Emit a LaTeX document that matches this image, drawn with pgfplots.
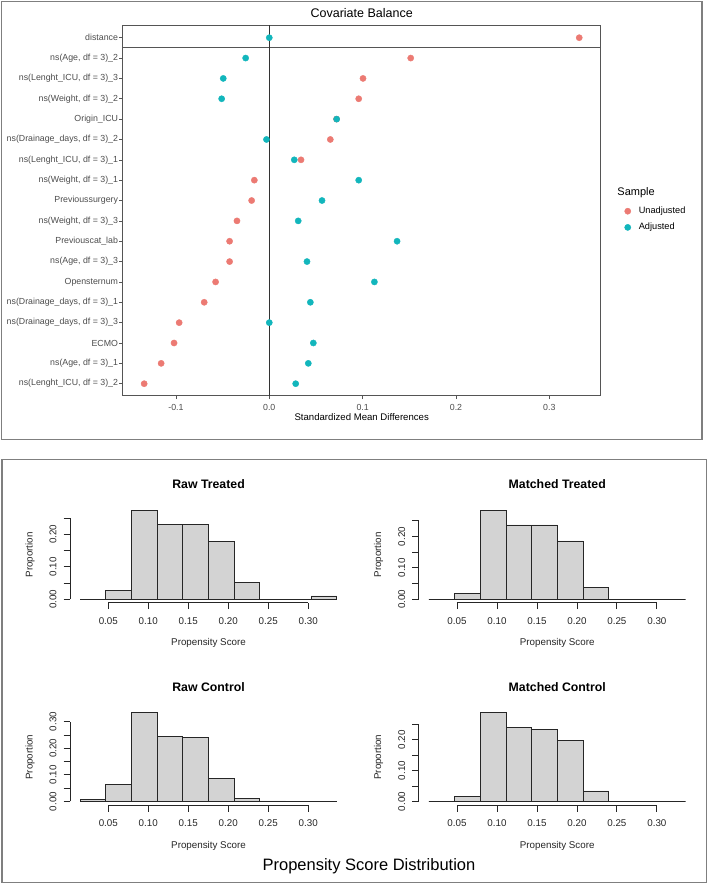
\documentclass[border=0pt]{standalone}
\usepackage{pgfplots}
\pgfplotsset{compat=1.18}
\usepackage{fontspec}
\setmainfont{Liberation Sans}
\definecolor{unadj}{HTML}{EC7A73}
\definecolor{adj}{HTML}{12B6BC}
\definecolor{boxgray}{HTML}{7F7F7F}
\definecolor{framegray}{HTML}{555555}
\definecolor{ticktext}{HTML}{4D4D4D}
\definecolor{histgray}{HTML}{D3D3D3}

\pgfplotstableread{
x y
0.332 17
0.1515 16
0.1004 15
0.0958 14
0.072 13
0.0654 12
0.034 11
-0.016 10
-0.0189 9
-0.0346 8
-0.0425 7
-0.0425 6
-0.0575 5
-0.0697 4
-0.0965 3
-0.102 2
-0.1158 1
-0.134 0
}\unadjdata

\pgfplotstableread{
x y
0.0 17
-0.0253 16
-0.0493 15
-0.051 14
0.0722 13
-0.003 12
0.0268 11
0.0958 10
0.0565 9
0.031 8
0.1369 7
0.0404 6
0.1126 5
0.044 4
0.0 3
0.0472 2
0.0418 1
0.0283 0
}\adjdata

\pgfplotsset{
  every axis title shift=0pt,
  hist/.style={
    scale only axis, width=277.1pt, height=95.7pt, anchor=south west,
    xmin=0.0021, xmax=0.3487,
    axis line style={draw=none},
    xtick={0.05,0.1,0.15,0.2,0.25,0.3},
    xticklabels={0.05,0.10,0.15,0.20,0.25,0.30},
    xtick pos=bottom, ytick pos=left, tick align=outside,
    major tick length=6.5pt,
    tick style={black!85, line width=0.8pt},
    tick label style={font=\fontsize{9.8}{11}\selectfont, text=black!85},
    yticklabel style={rotate=90, anchor=south},
    xticklabel shift=4.5pt, yticklabel shift=3.4pt,
    xlabel={Propensity Score}, ylabel={Proportion},
    xlabel style={at={(axis description cs:0.5,-0.424)}, anchor=center, font=\fontsize{9.8}{11}\selectfont, text=black!85},
    ylabel style={at={(axis description cs:-0.1444,0.5)}, anchor=center, font=\fontsize{9.8}{11}\selectfont, text=black!85},
    title style={at={(axis description cs:0.5,1.237)}, anchor=center, font=\bfseries\fontsize{12.3}{14}\selectfont},
    clip=false,
  },
  bars/.style={ybar interval, fill=histgray, draw=black!85, line width=0.8pt},
}

\begin{document}
\begin{tikzpicture}
\useasboundingbox (0pt,0pt) rectangle (709pt,-884pt);
\fill[white] (0pt,0pt) rectangle (709pt,-884pt);
\draw[boxgray, line width=1.5pt] (1.7pt,-1.7pt) rectangle (702pt,-439.3pt);
\draw[boxgray, line width=1.5pt] (2pt,-459.3pt) rectangle (706.7pt,-882.7pt);

% ---------------- Covariate balance (love plot) ----------------
\begin{axis}[
  at={(122.7pt,-395.7pt)}, anchor=south west, scale only axis,
  width=478pt, height=370.7pt,
  xmin=-0.157, xmax=0.355, ymin=-0.59, ymax=17.624,
  xtick={-0.1,0,0.1,0.2,0.3}, xticklabels={-0.1,0.0,0.1,0.2,0.3},
  ytick={0,...,17},
  yticklabels={
    {ns(Lenght\_ICU, df = 3)\_2},
    {ns(Age, df = 3)\_1},
    {ECMO},
    {ns(Drainage\_days, df = 3)\_3},
    {ns(Drainage\_days, df = 3)\_1},
    {Opensternum},
    {ns(Age, df = 3)\_3},
    {Previouscat\_lab},
    {ns(Weight, df = 3)\_3},
    {Previoussurgery},
    {ns(Weight, df = 3)\_1},
    {ns(Lenght\_ICU, df = 3)\_1},
    {ns(Drainage\_days, df = 3)\_2},
    {Origin\_ICU},
    {ns(Weight, df = 3)\_2},
    {ns(Lenght\_ICU, df = 3)\_3},
    {ns(Age, df = 3)\_2},
    {distance}},
  tick align=outside, major tick length=3.5pt,
  tick style={framegray, line width=0.6pt},
  xtick pos=bottom, ytick pos=left,
  axis line style={draw=framegray, line width=0.9pt},
  tick label style={font=\fontsize{8.8}{10}\selectfont, text=ticktext},
  yticklabel style={inner sep=1pt},
  xticklabel shift=1.5pt,
  xlabel={Standardized Mean Differences},
  xlabel style={at={(axis description cs:0.5,-0.0583)}, anchor=center, font=\fontsize{9.6}{11}\selectfont, text=black},
  title={Covariate Balance},
  title style={at={(axis description cs:0.5,1.0316)}, anchor=center, font=\fontsize{12.5}{14}\selectfont},
  legend style={draw=none, fill=none, at={(axis description cs:1.0434,0.52)}, anchor=north west,
    font=\fontsize{9.2}{10}\selectfont, row sep=4pt, column sep=6pt},
  legend cell align=left,
  clip=false,
]
\addplot[framegray, line width=0.9pt, forget plot] coordinates {(-0.157,16.53) (0.355,16.53)};
\addplot[black!80, line width=0.9pt, forget plot] coordinates {(0,-0.59) (0,17.624)};
\addplot[only marks, mark=*, mark size=3.1pt, color=unadj] table[x=x,y=y] {\unadjdata};
\addlegendentry{Unadjusted}
\addplot[only marks, mark=*, mark size=3.1pt, color=adj] table[x=x,y=y] {\adjdata};
\addlegendentry{Adjusted}
\node[anchor=west, font=\fontsize{11}{13}\selectfont, inner sep=0pt] at (axis description cs:1.0347,0.5476) {Sample};
\end{axis}

% ---------------- Raw Treated ----------------
\begin{axis}[hist, at={(70pt,-602.7pt)},
  ymin=-0.0109, ymax=0.2836,
  ytick={0,0.05,0.1,0.15,0.2,0.25}, yticklabels={0.00,,0.10,,0.20,},
  title={Raw Treated}]
\addplot[bars] coordinates {(0.0149,0) (0.0470,0.0255) (0.0791,0.2727) (0.1112,0.2286) (0.1433,0.2286) (0.1754,0.179) (0.2075,0.052) (0.2396,0) (0.2717,0) (0.3038,0.010) (0.3359,0)};
\draw[black!85, line width=0.8pt] (axis cs:0.05,-0.0109) -- (axis cs:0.30,-0.0109);
\draw[black!85, line width=0.8pt] (axis cs:0.0021,0) -- (axis cs:0.0021,0.25);
\end{axis}

% ---------------- Matched Treated ----------------
\begin{axis}[hist, at={(418.7pt,-602.7pt)},
  ymin=-0.01132, ymax=0.2943,
  ytick={0,0.05,0.1,0.15,0.2,0.25}, yticklabels={0.00,,0.10,,0.20,},
  title={Matched Treated}]
\addplot[bars] coordinates {(0.0149,0) (0.0470,0.0192) (0.0791,0.283) (0.1112,0.237) (0.1433,0.237) (0.1754,0.186) (0.2075,0.036) (0.2396,0) (0.2717,0) (0.3038,0) (0.3359,0)};
\draw[black!85, line width=0.8pt] (axis cs:0.05,-0.01132) -- (axis cs:0.30,-0.01132);
\draw[black!85, line width=0.8pt] (axis cs:0.0021,0) -- (axis cs:0.0021,0.25);
\end{axis}

% ---------------- Raw Control ----------------
\begin{axis}[hist, at={(70pt,-805pt)},
  ymin=-0.01332, ymax=0.3463,
  ytick={0,0.05,0.1,0.15,0.2,0.25,0.3}, yticklabels={0.00,,0.10,,0.20,,0.30},
  title={Raw Control}]
\addplot[bars] coordinates {(0.0149,0.0075) (0.0470,0.065) (0.0791,0.333) (0.1112,0.244) (0.1433,0.241) (0.1754,0.085) (0.2075,0.0098) (0.2396,0.002) (0.2717,0) (0.3038,0) (0.3359,0)};
\draw[black!85, line width=0.8pt] (axis cs:0.05,-0.01332) -- (axis cs:0.30,-0.01332);
\draw[black!85, line width=0.8pt] (axis cs:0.0021,0) -- (axis cs:0.0021,0.30);
\end{axis}

% ---------------- Matched Control ----------------
\begin{axis}[hist, at={(418.7pt,-805pt)},
  ymin=-0.01148, ymax=0.2985,
  ytick={0,0.05,0.1,0.15,0.2,0.25}, yticklabels={0.00,,0.10,,0.20,},
  title={Matched Control}]
\addplot[bars] coordinates {(0.0149,0) (0.0470,0.016) (0.0791,0.287) (0.1112,0.241) (0.1433,0.232) (0.1754,0.197) (0.2075,0.034) (0.2396,0) (0.2717,0) (0.3038,0) (0.3359,0)};
\draw[black!85, line width=0.8pt] (axis cs:0.05,-0.01148) -- (axis cs:0.30,-0.01148);
\draw[black!85, line width=0.8pt] (axis cs:0.0021,0) -- (axis cs:0.0021,0.25);
\end{axis}

\node[font=\fontsize{16.5}{19}\selectfont, anchor=center] at (369pt,-866pt) {Propensity Score Distribution};
\end{tikzpicture}
\end{document}
